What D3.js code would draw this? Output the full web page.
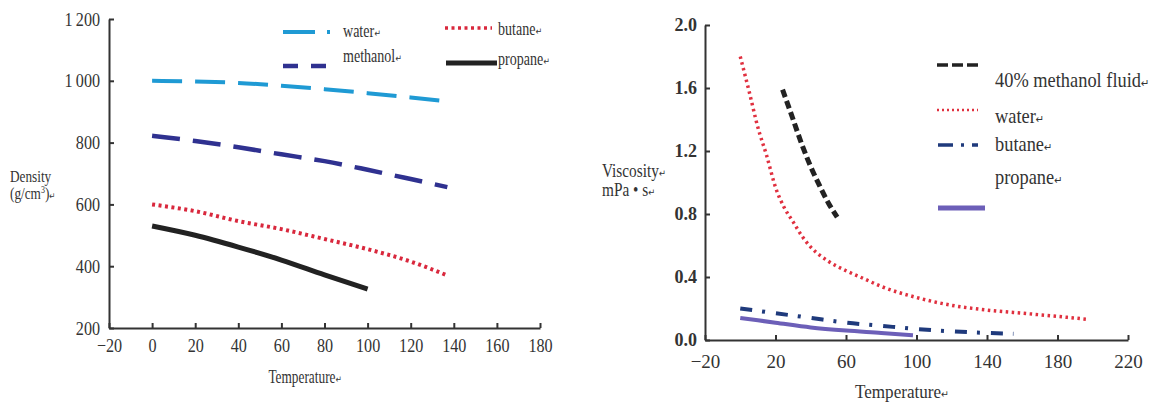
<!DOCTYPE html>
<html>
<head>
<meta charset="utf-8">
<script src="https://cdn.jsdelivr.net/npm/d3@7"></script>
<style>
  body { margin: 0; background: #fff; }
  svg { display: block; }
  text { font-family: "Liberation Serif", "DejaVu Serif", serif; fill: #333; }
  .axis path, .axis line { stroke: #333; stroke-width: 2; }
</style>
</head>
<body>
<svg width="1159" height="407"></svg>
<script>
// ---- density chart (left) ----
const densityWater    = [[0, 1000], [20, 998], [40, 993], [60, 984], [80, 973], [100, 960], [120, 946], [135, 935]]
const densityMethanol = [[0, 822], [20, 805], [40, 785], [60, 762], [80, 740], [100, 712], [120, 682], [137, 656]]
const densityButane   = [[0, 600], [20, 578], [40, 546], [60, 520], [80, 488], [100, 455], [120, 415], [137, 370]]
const densityPropane  = [[0, 530], [20, 500], [40, 462], [60, 420], [80, 372], [100, 326]]
const densityXTicks = [-20, 0, 20, 40, 60, 80, 100, 120, 140, 160, 180]
const densityYTicks = [200, 400, 600, 800, 1000, 1200]

// ---- viscosity chart (right) ----
const viscMethanol = [[24, 1.59], [30, 1.40], [35, 1.24], [40, 1.10], [45, 0.98], [50, 0.87], [55, 0.78]]
const viscWater    = [[0, 1.80], [5, 1.58], [10, 1.35], [15, 1.17], [20, 0.97], [25, 0.84], [30, 0.75], [35, 0.66],
                      [40, 0.59], [50, 0.50], [60, 0.44], [70, 0.39], [80, 0.34], [100, 0.27], [120, 0.22],
                      [140, 0.19], [160, 0.17], [180, 0.15], [198, 0.13]]
const viscButane   = [[0, 0.20], [20, 0.17], [40, 0.14], [60, 0.11], [80, 0.09], [100, 0.07], [120, 0.055], [140, 0.045], [155, 0.04]]
const viscPropane  = [[0, 0.14], [20, 0.11], [40, 0.08], [60, 0.06], [80, 0.045], [98, 0.03]]
const viscXTicks = [-20, 20, 60, 100, 140, 180, 220]
const viscYTicks = [0, 0.4, 0.8, 1.2, 1.6, 2.0]

const svg = d3.select('svg')
const minus = s => String(s).replace('-', '\u2212')

// text with horizontal squeeze, like the scanned figure
function label(x, y, size, sx, anchor) {
    return svg.append('text')
        .attr('transform', `translate(${x},${y}) scale(${sx},1)`)
        .attr('font-size', size)
        .attr('text-anchor', anchor || 'start')
}
function addReturn(t) {
    t.append('tspan').attr('font-size', '0.55em').attr('font-family', 'DejaVu Sans').text('\u21b5')
}
function word(x, y, str, size, sx, anchor) {
    const t = label(x, y, size, sx, anchor)
    t.append('tspan').text(str)
    addReturn(t)
    return t
}

function series(x, y, data, color, width, dash) {
    const line = d3.line().x(d => x(d[0])).y(d => y(d[1])).curve(d3.curveMonotoneX)
    svg.append('path')
        .attr('d', line(data))
        .attr('fill', 'none')
        .attr('stroke', color)
        .attr('stroke-width', width)
        .attr('stroke-dasharray', dash)
}
function swatch(x1, x2, yy, color, width, dash) {
    svg.append('line')
        .attr('x1', x1).attr('x2', x2).attr('y1', yy).attr('y2', yy)
        .attr('stroke', color).attr('stroke-width', width)
        .attr('stroke-dasharray', dash)
}

// left
const xL = d3.scaleLinear().domain([-20, 180]).range([109, 540])
const yL = d3.scaleLinear().domain([200, 1200]).range([328, 19])

svg.append('g').attr('class', 'axis').attr('transform', 'translate(0,328)')
    .call(d3.axisBottom(xL).tickValues(densityXTicks).tickSizeInner(-5).tickSizeOuter(0).tickPadding(11)
        .tickFormat(minus))
    .call(g => g.selectAll('text').attr('font-size', 19).attr('transform', 'scale(0.85,1)'))
svg.append('g').attr('class', 'axis').attr('transform', 'translate(109,0)')
    .call(d3.axisLeft(yL).tickValues(densityYTicks).tickSizeInner(-5).tickSizeOuter(0).tickPadding(9)
        .tickFormat(d => d >= 1000 ? Math.floor(d / 1000) + '\u2009' + String(d % 1000).padStart(3, '0') : d))
    .call(g => g.selectAll('text').attr('font-size', 19).attr('transform', 'scale(0.85,1)').attr('x', -10.5))
svg.selectAll('.axis text').attr('fill', '#333').attr('font-family', '"Liberation Serif", serif')

series(xL, yL, densityWater, '#1f9ad4', 4, '30,13')
series(xL, yL, densityMethanol, '#2f3190', 4.5, '28,13')
series(xL, yL, densityButane, '#d9283d', 4, '3,3.5')
series(xL, yL, densityPropane, '#222', 5)

label(10, 182, 17, 0.78).text('Density')
let t = label(10, 199, 17, 0.78)
t.append('tspan').text('(g/cm')
t.append('tspan').attr('font-size', '0.6em').attr('dy', -6).text('3')
t.append('tspan').attr('dy', 6).text(')')
addReturn(t)
word(305, 383, 'Temperature', 18, 0.74, 'middle')

swatch(283, 335, 32, '#1f9ad4', 4, '32,12,3,200')
swatch(283, 328, 66, '#2f3190', 4.5, '15,13')
swatch(445, 492, 28, '#d9283d', 3.5, '3,3.5')
swatch(446, 497, 63, '#222', 5)
word(343, 37, 'water', 18, 0.78)
word(343, 62, 'methanol', 18, 0.78)
word(498, 35, 'butane', 18, 0.78)
word(498, 65, 'propane', 18, 0.78)

// right
const xR = d3.scaleLinear().domain([-20, 220]).range([705, 1128])
const yR = d3.scaleLinear().domain([0, 2]).range([340, 25])

svg.append('g').attr('class', 'axis').attr('transform', 'translate(0,340)')
    .call(d3.axisBottom(xR).tickValues(viscXTicks).tickSizeInner(-5).tickSizeOuter(0).tickPadding(15)
        .tickFormat(minus))
    .call(g => g.selectAll('text').attr('font-size', 19))
svg.append('g').attr('class', 'axis').attr('transform', 'translate(705,0)')
    .call(d3.axisLeft(yR).tickValues(viscYTicks).tickSizeInner(-5).tickSizeOuter(0).tickPadding(8)
        .tickFormat(d3.format('.1f')))
    .call(g => g.selectAll('text').attr('font-size', 18).attr('font-weight', 'bold').attr('fill', '#555'))
svg.selectAll('.axis text').attr('font-family', '"Liberation Serif", serif')

series(xR, yR, viscMethanol, '#222', 5, '8,4')
series(xR, yR, viscWater, '#e0303f', 3.5, '2.5,3.5')
series(xR, yR, viscButane, '#1f3a7c', 4, '12,10,3,11')
series(xR, yR, viscPropane, '#6c5fb8', 4)

word(602, 177, 'Viscosity', 18, 0.85)
word(602, 196, 'mPa \u2022 s', 18, 0.85)
word(855, 398, 'Temperature', 19, 0.9)

swatch(937, 978, 65, '#222', 3.5, '11,4')
swatch(937, 978, 110, '#e0303f', 2.5, '2,3')
swatch(938, 980, 145, '#1f3a7c', 3.5, '15,8,3,8,6')
swatch(938, 985, 208, '#6c5fb8', 5)
word(995, 87, '40% methanol fluid', 20, 0.92)
word(995, 123, 'water', 20, 0.92)
word(995, 151, 'butane', 20, 0.92)
word(995, 184, 'propane', 20, 0.92)
</script>
</body>
</html>
